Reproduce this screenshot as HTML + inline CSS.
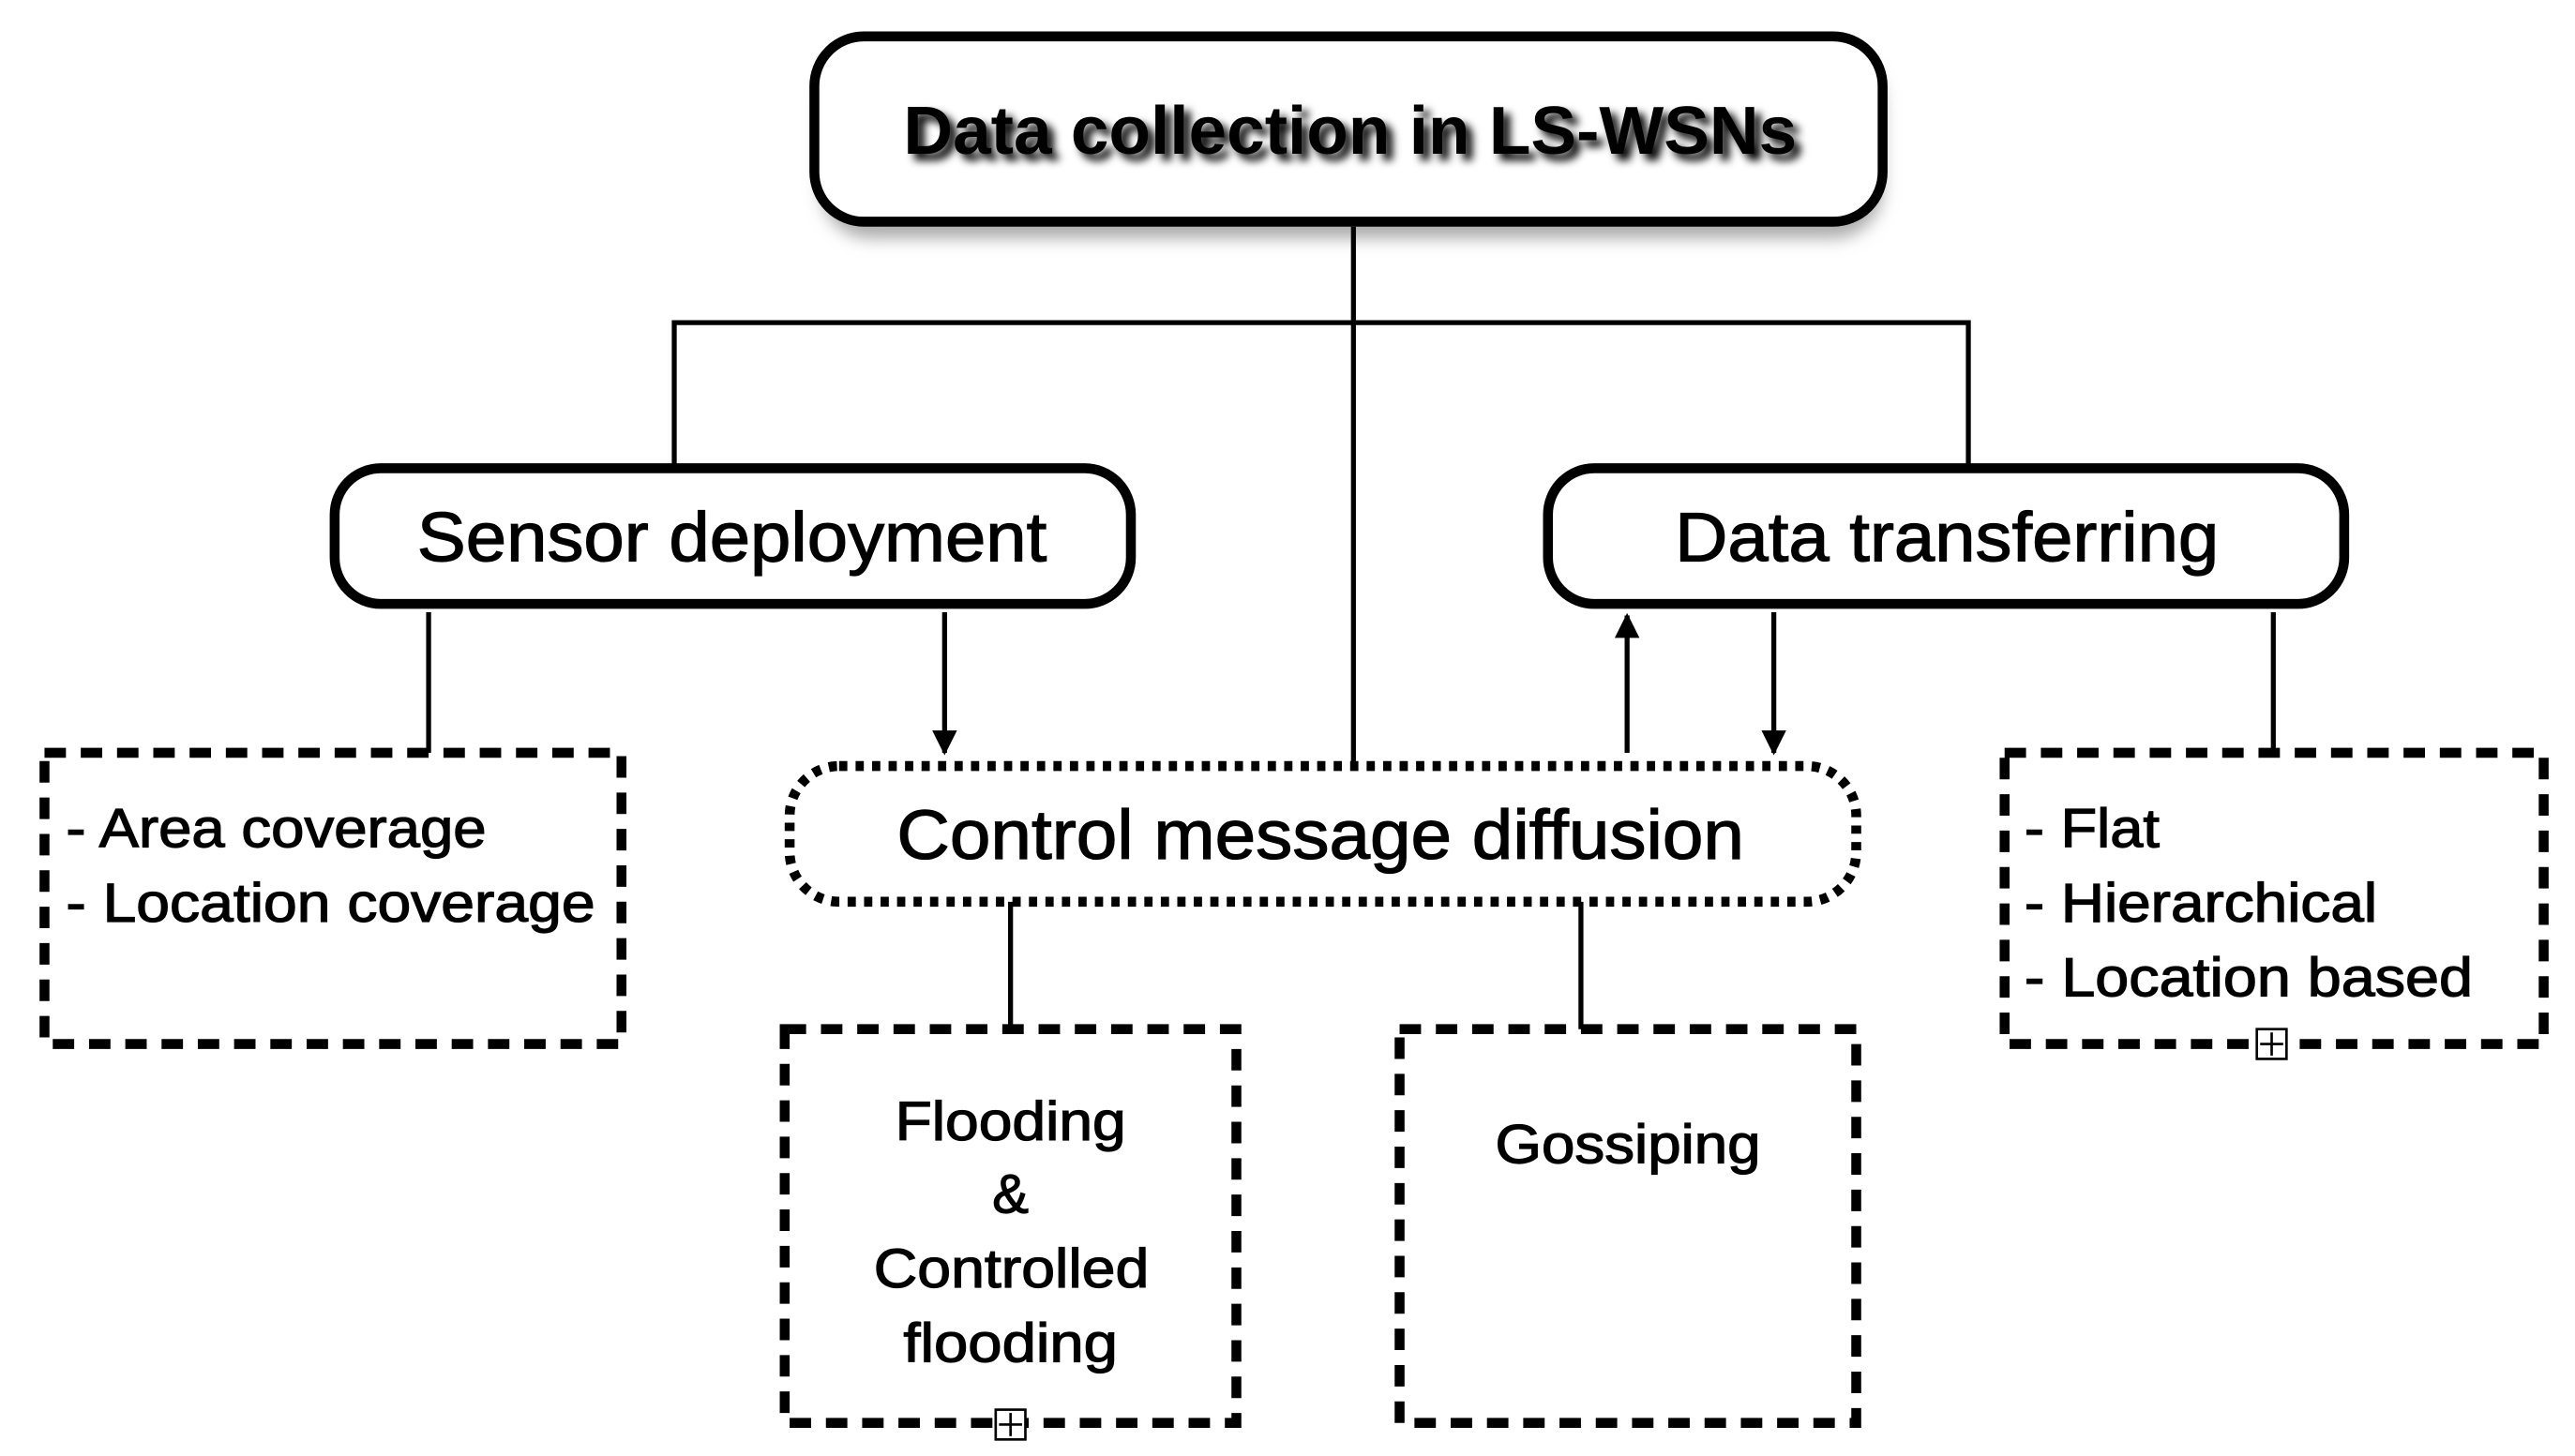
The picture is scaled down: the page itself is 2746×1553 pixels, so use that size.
<!DOCTYPE html>
<html><head><meta charset="utf-8"><style>
html,body{margin:0;padding:0;background:#fff;width:2746px;height:1553px;overflow:hidden}
svg{display:block}
text{font-family:"Liberation Sans",sans-serif;fill:#000}
.m{stroke:#000;stroke-width:0.7}
</style></head><body>
<svg width="2746" height="1553" viewBox="0 0 1562 880" preserveAspectRatio="none" xmlns="http://www.w3.org/2000/svg">
<defs>
<filter id="sh" x="-10%" y="-30%" width="120%" height="160%"><feGaussianBlur stdDeviation="5"/></filter>
<filter id="tsh" x="-5%" y="-30%" width="110%" height="160%"><feGaussianBlur stdDeviation="2.5"/></filter>
<marker id="ar" viewBox="0 0 10 10" refX="9" refY="5" markerWidth="5" markerHeight="5" orient="auto"><path d="M0,0 L10,5 L0,10 z" fill="#000"/></marker>
</defs>
<rect x="498" y="32" width="644" height="112" rx="30" fill="#aaa" filter="url(#sh)"/>
<rect x="494" y="22" width="648" height="112" rx="30" fill="#fff" stroke="#000" stroke-width="6"/>
<text x="552" y="97" font-size="41" font-weight="bold" fill="#999" filter="url(#tsh)" textLength="542" lengthAdjust="spacingAndGlyphs">Data collection in LS-WSNs</text>
<text x="548" y="93" font-size="41" font-weight="bold" textLength="542" lengthAdjust="spacingAndGlyphs">Data collection in LS-WSNs</text>
<g stroke="#000" stroke-width="3" fill="none">
<line x1="821" y1="137" x2="821" y2="463"/>
<polyline points="409,283 409,195 1194,195 1194,281"/>
<line x1="260" y1="370" x2="260" y2="455"/>
<line x1="573" y1="370" x2="573" y2="455" marker-end="url(#ar)"/>
<line x1="987" y1="455" x2="987" y2="372" marker-end="url(#ar)"/>
<line x1="1076" y1="370" x2="1076" y2="455" marker-end="url(#ar)"/>
<line x1="1379" y1="370" x2="1379" y2="455"/>
<line x1="613" y1="545" x2="613" y2="622"/>
<line x1="959" y1="545" x2="959" y2="622"/>
</g>
<rect x="203" y="283" width="483" height="82" rx="28" fill="#fff" stroke="#000" stroke-width="6"/>
<text x="253" y="339" font-size="42" class="m" textLength="382" lengthAdjust="spacingAndGlyphs">Sensor deployment</text>
<rect x="939" y="283" width="483" height="82" rx="28" fill="#fff" stroke="#000" stroke-width="6"/>
<text x="1016" y="339" font-size="42" class="m" textLength="330" lengthAdjust="spacingAndGlyphs">Data transferring</text>
<g fill="none" stroke="#000" stroke-width="6" stroke-dasharray="13,9">
<rect x="27" y="455" width="350" height="176"/>
<rect x="476" y="622" width="274" height="238"/>
<rect x="849" y="622" width="277" height="238"/>
<rect x="1216" y="455" width="327" height="176"/>
</g>
<rect x="479" y="463" width="647" height="82" rx="30" fill="#fff" stroke="#000" stroke-width="6" stroke-dasharray="5,5"/>
<text x="544" y="519" font-size="42" class="m" textLength="514" lengthAdjust="spacingAndGlyphs">Control message diffusion</text>
<g font-size="33" class="m">
<text x="40" y="512" textLength="255" lengthAdjust="spacingAndGlyphs">- Area coverage</text>
<text x="40" y="557" textLength="321" lengthAdjust="spacingAndGlyphs">- Location coverage</text>
<text x="543" y="689" textLength="140" lengthAdjust="spacingAndGlyphs">Flooding</text>
<text x="613" y="733" text-anchor="middle">&amp;</text>
<text x="530" y="778" textLength="167" lengthAdjust="spacingAndGlyphs">Controlled</text>
<text x="548" y="823" textLength="130" lengthAdjust="spacingAndGlyphs">flooding</text>
<text x="907" y="703" textLength="161" lengthAdjust="spacingAndGlyphs">Gossiping</text>
<text x="1228" y="512" textLength="82" lengthAdjust="spacingAndGlyphs">- Flat</text>
<text x="1228" y="557" textLength="214" lengthAdjust="spacingAndGlyphs">- Hierarchical</text>
<text x="1228" y="602" textLength="272" lengthAdjust="spacingAndGlyphs">- Location based</text>
</g>
<g fill="#fff" stroke="#000" stroke-width="1.5">
<rect x="604" y="852" width="18" height="18"/><line x1="613" y1="854" x2="613" y2="868"/><line x1="606" y1="861" x2="620" y2="861"/>
<rect x="1369" y="622" width="18" height="18"/><line x1="1378" y1="624" x2="1378" y2="638"/><line x1="1371" y1="631" x2="1385" y2="631"/>
</g>
</svg>
</body></html>
